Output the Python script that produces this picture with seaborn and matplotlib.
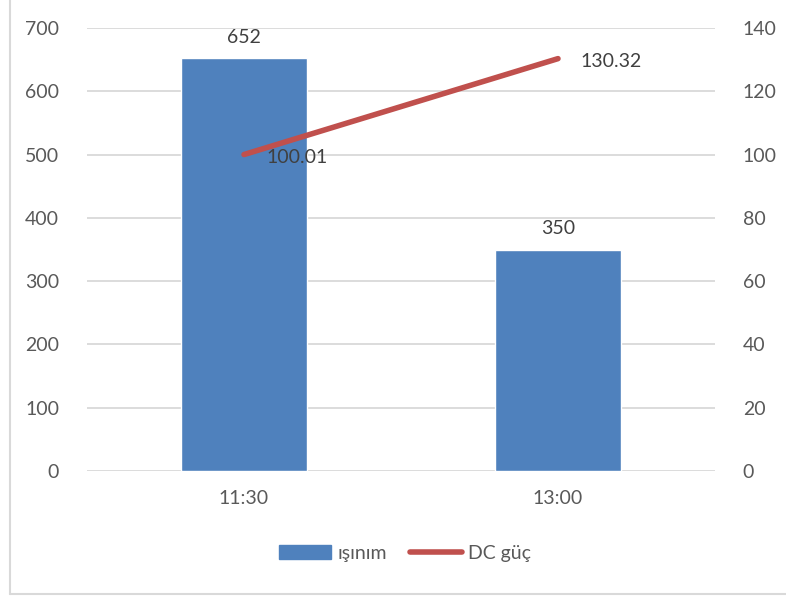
import matplotlib
matplotlib.use("Agg")
import matplotlib.pyplot as plt
import seaborn as sns
import pandas as pd
from matplotlib.lines import Line2D
from matplotlib.patches import Patch

categories = ["11:30", "13:00"]
isinim = [652, 350]
dc_guc = [100.01, 130.32]
left_ticks = [0, 100, 200, 300, 400, 500, 600, 700]
right_ticks = [0, 20, 40, 60, 80, 100, 120, 140]

sns.set_theme(style="white")
plt.rcParams['font.family'] = ['Lato', 'DejaVu Sans']

BLUE = "#4F81BD"
RED = "#C0504D"
TXT = "#595959"
GRID = "#D9D9D9"
FS = 14

fig = plt.figure(figsize=(7.86, 5.99), dpi=100)
ax = fig.add_axes([87/786, 1-471/599, (715-87)/786, (471-28)/599])

df = pd.DataFrame({"cat": categories, "isinim": isinim})
sns.barplot(data=df, x="cat", y="isinim", color=BLUE, saturation=1, width=0.4, ax=ax, zorder=2)
ax.set_xlim(-0.5, 1.5)
ax.set_ylim(0, 700)
ax.set_yticks(left_ticks)
ax.yaxis.grid(True, color=GRID, linewidth=1.3, zorder=0)
ax.set_axisbelow(True)
for s in ax.spines.values():
    s.set_visible(False)
ax.set_xlabel("")
ax.set_ylabel("")
ax.tick_params(axis="both", length=0, labelsize=FS, labelcolor=TXT)
ax.tick_params(axis="y", pad=20)
ax.tick_params(axis="x", pad=14)
for c in ax.containers:
    ax.bar_label(c, labels=[str(v) for v in isinim], padding=9, fontsize=FS, color="#404040")

ax2 = ax.twinx()
ldf = pd.DataFrame({"x": [0, 1], "dc": dc_guc})
sns.lineplot(data=ldf, x="x", y="dc", color=RED, linewidth=4, ax=ax2, solid_capstyle="round")
ax2.set_ylim(0, 140)
ax2.set_yticks(right_ticks)
ax2.set_xlim(-0.5, 1.5)
for s in ax2.spines.values():
    s.set_visible(False)
ax2.set_ylabel("")
ax2.tick_params(axis="y", length=0, labelsize=FS, labelcolor=TXT, pad=20)
for xi, v in zip([0, 1], dc_guc):
    ax2.annotate(f"{v:.2f}", (xi, v), xytext=(16, -2), textcoords="offset points",
                 ha="left", va="center", fontsize=FS, color="#404040")

handles = [Patch(facecolor=BLUE, edgecolor=BLUE), Line2D([0], [0], color=RED, linewidth=4, solid_capstyle="round")]
fig.legend(handles, ["ışınım", "DC güç"], loc="center", bbox_to_anchor=(405/786, 1-553/599),
           ncol=2, frameon=False, fontsize=FS, labelcolor=TXT, handlelength=2.7,
           handletextpad=0.3, columnspacing=1.2, handleheight=0.7)

fig.add_artist(Line2D([10/786, 10/786], [1-594/599, 1.0], color=GRID, linewidth=1.5, transform=fig.transFigure))
fig.add_artist(Line2D([10/786, 1.0], [1-594/599, 1-594/599], color=GRID, linewidth=1.5, transform=fig.transFigure))

fig.savefig("out.png", dpi=100)
